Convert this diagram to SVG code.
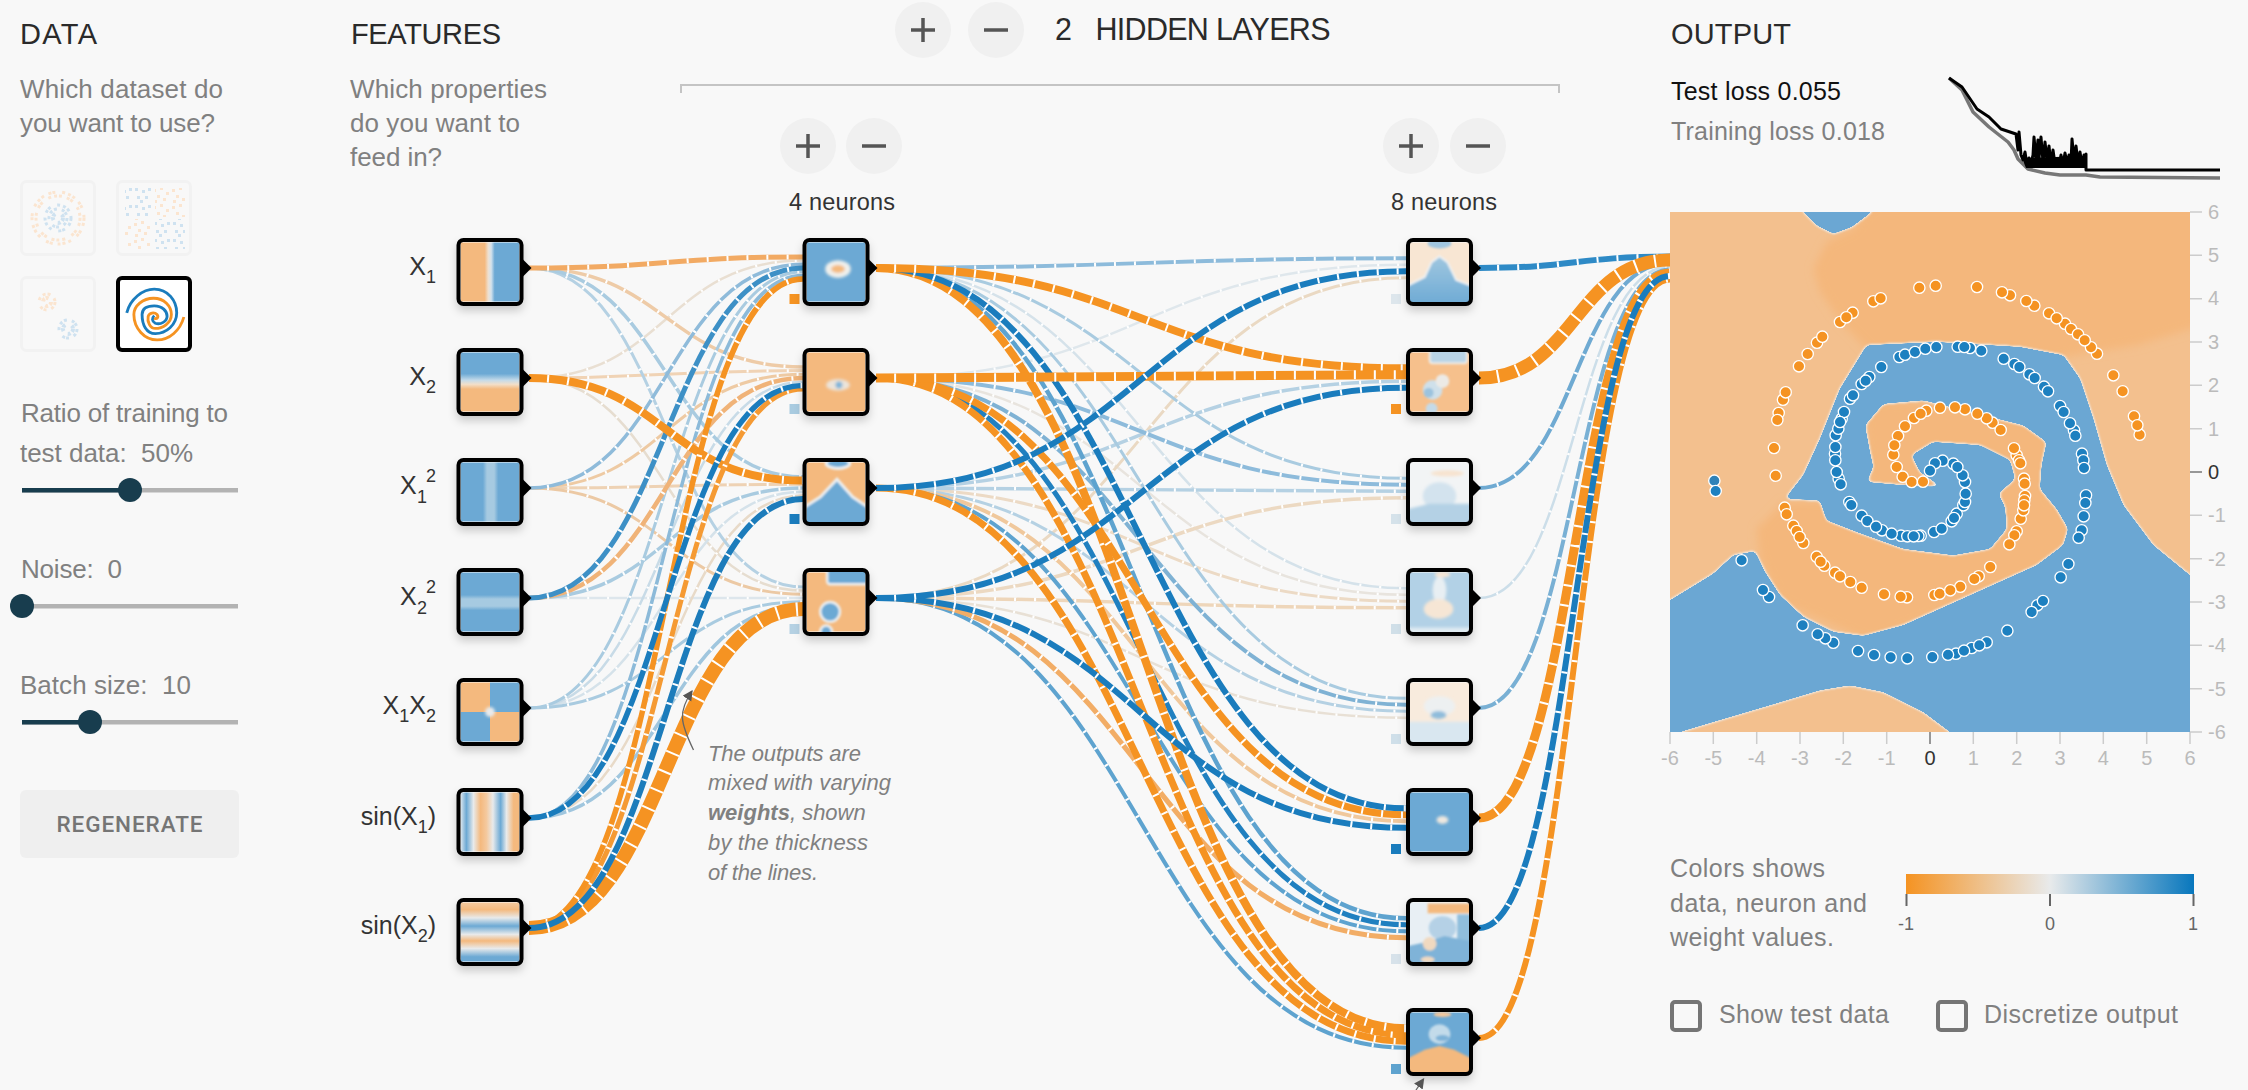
<svg xmlns="http://www.w3.org/2000/svg" width="2248" height="1090" viewBox="0 0 2248 1090">
<style>
text{font-family:"Liberation Sans",Arial,sans-serif}
.h{font-size:29px;fill:#2a2a2a}
.g{font-size:26px;fill:#808080}
.l{font-size:25px;fill:#333;text-anchor:end}
.n{font-size:23.5px;fill:#333}
.a{font-size:20px;fill:#bbb}
.ac{text-anchor:middle}
.an{font-size:22px;fill:#808080;font-style:italic}
.btn{fill:#f0f0f0}
.ic{stroke:#555;stroke-width:3.5;fill:none}
.tick{stroke:#ccc;stroke-width:1.5}
#links{fill:none}
#links .g2{stroke:#fff;stroke-dasharray:0 18 2 0}
.o{fill:#f59322;stroke:#fff;stroke-width:4}
.b{fill:#1d80c0;stroke:#fff;stroke-width:4}
.thumb{fill:#f8f8f8;stroke:#f2f2f2;stroke-width:3}
.dot{fill:none;stroke-dasharray:3 2 3 5 3 1 3 7 3 3}
</style>
<defs>
<filter id="sh" x="-30%" y="-30%" width="160%" height="170%"><feDropShadow dx="0" dy="5" stdDeviation="5" flood-color="#000" flood-opacity=".22"/></filter>
<filter id="bl" x="-20%" y="-20%" width="140%" height="140%"><feGaussianBlur stdDeviation="1.8"/></filter>
<filter id="bs" x="-20%" y="-20%" width="140%" height="140%"><feGaussianBlur stdDeviation="1.2"/></filter>
<filter id="bw" x="-10%" y="-10%" width="120%" height="120%"><feGaussianBlur stdDeviation="12"/></filter>
<filter id="smooth" x="-5%" y="-5%" width="110%" height="110%" color-interpolation-filters="sRGB">
<feGaussianBlur in="SourceAlpha" stdDeviation="8" result="b"/>
<feComponentTransfer in="b" result="m"><feFuncA type="linear" slope="25" intercept="-12"/></feComponentTransfer>
<feComponentTransfer in="b" result="h"><feFuncA type="linear" slope="25" intercept="-9"/></feComponentTransfer>
<feFlood flood-color="#6ba7d3"/><feComposite in2="m" operator="in" result="fb"/>
<feFlood flood-color="#eef1f3"/><feComposite in2="h" operator="in"/><feGaussianBlur stdDeviation="3" result="fh"/>
<feGaussianBlur in="fb" stdDeviation="2" result="fb2"/>
<feMerge><feMergeNode in="fh"/><feMergeNode in="fb2"/></feMerge>
</filter>
<rect id="card" x="1" y="1" width="65" height="66" rx="5" fill="#f8f8f8" filter="url(#sh)"/>
<g id="frame"><rect x="2" y="2" width="63" height="64" rx="5" fill="none" stroke="#000" stroke-width="4"/><polygon points="66,21 75,30 66,39" fill="#000"/></g>
<linearGradient id="g1"><stop offset="0" stop-color="#f4b97e"/><stop offset=".41" stop-color="#f4b97e"/><stop offset=".47" stop-color="#eee0d0"/><stop offset=".52" stop-color="#d5e3ed"/><stop offset=".58" stop-color="#6ca9d4"/><stop offset="1" stop-color="#6ca9d4"/></linearGradient>
<linearGradient id="g2" x1="0" y1="0" x2="0" y2="1"><stop offset="0" stop-color="#6ca9d4"/><stop offset=".36" stop-color="#6ca9d4"/><stop offset=".47" stop-color="#c5dbe9"/><stop offset=".54" stop-color="#f2dfc9"/><stop offset=".62" stop-color="#f4b97e"/><stop offset="1" stop-color="#f4b97e"/></linearGradient>
<linearGradient id="g3"><stop offset="0" stop-color="#6ca9d4"/><stop offset=".38" stop-color="#6ca9d4"/><stop offset=".45" stop-color="#a6cae1"/><stop offset=".57" stop-color="#a6cae1"/><stop offset=".64" stop-color="#6ca9d4"/><stop offset="1" stop-color="#6ca9d4"/></linearGradient>
<linearGradient id="g4" x1="0" y1="0" x2="0" y2="1"><stop offset="0" stop-color="#6ca9d4"/><stop offset=".38" stop-color="#6ca9d4"/><stop offset=".45" stop-color="#a6cae1"/><stop offset=".57" stop-color="#a6cae1"/><stop offset=".64" stop-color="#6ca9d4"/><stop offset="1" stop-color="#6ca9d4"/></linearGradient>
<linearGradient id="g5"><stop offset="0" stop-color="#e0e8ee"/><stop offset=".1" stop-color="#6ca9d4"/><stop offset=".22" stop-color="#e8eaeb"/><stop offset=".34" stop-color="#f4b97e"/><stop offset=".44" stop-color="#f4c99e"/><stop offset=".55" stop-color="#e8eaeb"/><stop offset=".68" stop-color="#6ca9d4"/><stop offset=".78" stop-color="#e8eaeb"/><stop offset=".9" stop-color="#f4b97e"/><stop offset="1" stop-color="#f4b97e"/></linearGradient>
<linearGradient id="g6" x1="0" y1="0" x2="0" y2="1"><stop offset="0" stop-color="#f4c99e"/><stop offset=".12" stop-color="#f4b97e"/><stop offset=".26" stop-color="#e8eaeb"/><stop offset=".4" stop-color="#6ca9d4"/><stop offset=".54" stop-color="#e8eaeb"/><stop offset=".65" stop-color="#f4b97e"/><stop offset=".78" stop-color="#e8eaeb"/><stop offset=".92" stop-color="#6ca9d4"/><stop offset="1" stop-color="#6ca9d4"/></linearGradient>
<linearGradient id="gm" x1="0" y1="0" x2="0" y2="1"><stop offset="0" stop-color="#a0c7e0"/><stop offset="1" stop-color="#6ca9d4"/></linearGradient>
<linearGradient id="leg"><stop offset="0" stop-color="#f59322"/><stop offset=".5" stop-color="#e8eaeb"/><stop offset="1" stop-color="#0877bd"/></linearGradient>
<pattern id="po" width="19" height="17" patternUnits="userSpaceOnUse"><g fill="#fbe5d0"><rect x="1" y="2" width="3" height="3"/><rect x="8" y="0" width="3" height="3"/><rect x="14" y="5" width="3" height="3"/><rect x="5" y="8" width="3" height="3"/><rect x="11" y="11" width="3" height="3"/><rect x="2" y="13" width="3" height="3"/></g></pattern>
<pattern id="pb" width="19" height="17" patternUnits="userSpaceOnUse"><g fill="#cfe2f0"><rect x="2" y="1" width="3" height="3"/><rect x="9" y="3" width="3" height="3"/><rect x="15" y="1" width="3" height="3"/><rect x="4" y="9" width="3" height="3"/><rect x="12" y="9" width="3" height="3"/><rect x="7" y="13" width="3" height="3"/></g></pattern>
<marker id="ar" markerWidth="8" markerHeight="10" refX="7" refY="4" orient="auto"><path d="M0 0L8 4L0 8z" fill="#555"/></marker>
</defs>
<rect width="2248" height="1090" fill="#f8f8f8"/>

<g id="data-panel">
<text class="h" x="20" y="43.5" textLength="77">DATA</text>
<text class="g" x="20" y="98" textLength="203">Which dataset do</text>
<text class="g" x="20" y="132" textLength="195">you want to use?</text>
<g id="dataset-circle"><rect class="thumb" x="21.5" y="181.5" width="73" height="73" rx="5"/><g class="dot" stroke="#fbe5d0"><circle cx="58" cy="218" r="26" stroke-width="3"/><circle cx="58" cy="218" r="22" stroke-width="3"/></g><g class="dot" stroke="#cfe2f0"><circle cx="58" cy="218" r="13" stroke-width="3"/><circle cx="58" cy="218" r="9" stroke-width="3"/><circle cx="58" cy="218" r="5" stroke-width="4"/></g></g>
<g id="dataset-xor"><rect class="thumb" x="117.5" y="181.5" width="73" height="73" rx="5"/><rect x="125" y="188" width="28" height="29" fill="url(#pb)"/><rect x="155" y="188" width="30" height="29" fill="url(#po)"/><rect x="125" y="219" width="28" height="30" fill="url(#po)"/><rect x="155" y="219" width="30" height="30" fill="url(#pb)"/></g>
<g id="dataset-gauss"><rect class="thumb" x="21.5" y="277.5" width="73" height="73" rx="5"/><g class="dot" stroke="#fbe5d0"><circle cx="47" cy="302" r="8" stroke-width="3"/><circle cx="47" cy="302" r="4" stroke-width="4"/></g><g class="dot" stroke="#cfe2f0"><circle cx="68" cy="329" r="9" stroke-width="3"/><circle cx="68" cy="329" r="5" stroke-width="4"/></g></g>
<g id="dataset-spiral"><rect x="118" y="278" width="72" height="72" rx="4" fill="#fff" stroke="#000" stroke-width="4"/><g transform="scale(.357 .3476)" fill="none" stroke-width="8"><path stroke="#1a7cbd" d="M355 900C365 860 400 832 432 832C470 832 495 865 495 900C495 935 465 960 435 960C410 960 398 935 398 905C398 885 415 880 432 880C455 880 468 895 468 910C468 925 450 935 435 930C425 925 425 915 432 908"/><path stroke="#f59322" d="M515 912C505 950 475 978 440 978C405 978 375 945 375 905C375 880 400 858 430 858C460 858 480 880 480 905C480 930 455 945 435 945C420 945 412 925 415 910C418 900 432 897 440 905C445 912 440 920 432 915"/></g></g>
<text class="g" x="21" y="422" textLength="207">Ratio of training to</text>
<text class="g" x="20" y="462" xml:space="preserve" textLength="173">test data:  50%</text>
<g id="slider-ratio"><rect x="22" y="488" width="216" height="4.5" fill="#b3b3b3"/><rect x="22" y="488" width="108" height="4.5" fill="#183d4e"/><circle cx="130" cy="490" r="12" fill="#183d4e"/></g>
<text class="g" x="21" y="578" xml:space="preserve" textLength="101">Noise:  0</text>
<g id="slider-noise"><rect x="22" y="604" width="216" height="4.5" fill="#b3b3b3"/><circle cx="22" cy="606" r="12" fill="#183d4e"/></g>
<text class="g" x="20" y="694" xml:space="preserve" textLength="171">Batch size:  10</text>
<g id="slider-batch"><rect x="22" y="720" width="216" height="4.5" fill="#b3b3b3"/><rect x="22" y="720" width="68" height="4.5" fill="#183d4e"/><circle cx="90" cy="722" r="12" fill="#183d4e"/></g>
<g id="regenerate"><rect x="20" y="790" width="219" height="68" rx="6" fill="#efefef"/><text x="129.5" y="832" class="ac" style="font-size:22.5px;font-family:Roboto,sans-serif;font-weight:500;fill:#757575" textLength="146">REGENERATE</text></g>
</g>

<g id="top-controls">
<text class="h" x="351" y="43.5" textLength="150">FEATURES</text>
<text class="g" x="350" y="98" textLength="197">Which properties</text>
<text class="g" x="350" y="132" textLength="170">do you want to</text>
<text class="g" x="350" y="166" textLength="92">feed in?</text>
<g id="layer-add"><circle class="btn" cx="923" cy="30" r="28"/><path class="ic" d="M911 30H935M923 18V42"/></g>
<g id="layer-remove"><circle class="btn" cx="996" cy="30" r="28"/><path class="ic" d="M984 30H1008"/></g>
<text class="h" x="1055" y="40" style="font-size:30.5px">2</text>
<text class="h" x="1095.5" y="40" style="font-size:30.5px" textLength="235">HIDDEN LAYERS</text>
<path d="M681 93V85H1559V93" fill="none" stroke="#c4c4c4" stroke-width="2"/>
<g id="l1-add"><circle class="btn" cx="808" cy="146" r="28"/><path class="ic" d="M796 146H820M808 134V158"/></g>
<g id="l1-remove"><circle class="btn" cx="874" cy="146" r="28"/><path class="ic" d="M862 146H886"/></g>
<g id="l2-add"><circle class="btn" cx="1411" cy="146" r="28"/><path class="ic" d="M1399 146H1423M1411 134V158"/></g>
<g id="l2-remove"><circle class="btn" cx="1478" cy="146" r="28"/><path class="ic" d="M1466 146H1490"/></g>
<text class="n" x="789" y="209.5" textLength="106">4 neurons</text>
<text class="n" x="1391" y="209.5" textLength="106">8 neurons</text>
</g>

<g id="links">
<g id="links-input">
<g stroke="#e9dfd2" stroke-width="2.5"><path id="a2" d="M529 378C666 378 666 260.6 803 260.6"/><use href="#a2" class="g2"/></g>
<g stroke="#e6ddd0" stroke-width="2.5"><path id="c2" d="M529 378C666 378 666 590.6 803 590.6"/><use href="#c2" class="g2"/></g>
<g stroke="#dde6ec" stroke-width="2.5"><path id="c4" d="M529 598C666 598 666 598 803 598"/><use href="#c4" class="g2"/></g>
<g stroke="#d5e2ea" stroke-width="2.5"><path id="b5" d="M529 708C666 708 666 491.7 803 491.7"/><use href="#b5" class="g2"/></g>
<g stroke="#e8dac8" stroke-width="2.5"><path id="b6" d="M529 818C666 818 666 495.4 803 495.4"/><use href="#b6" class="g2"/></g>
<g stroke="#c8dbe7" stroke-width="2.5"><path id="e5" d="M529 708C666 708 666 381.7 803 381.7"/><use href="#e5" class="g2"/></g>
<g stroke="#eecba7" stroke-width="3.5"><path id="e1" d="M529 268C666 268 666 366.9 803 366.9"/><use href="#e1" class="g2"/></g>
<g stroke="#f0d3b5" stroke-width="3"><path id="e2" d="M529 378C666 378 666 370.6 803 370.6"/><use href="#e2" class="g2"/></g>
<g stroke="#eecaa3" stroke-width="3"><path id="e3" d="M529 488C666 488 666 374.3 803 374.3"/><use href="#e3" class="g2"/></g>
<g stroke="#eed2b4" stroke-width="3"><path id="b3" d="M529 488C666 488 666 484.3 803 484.3"/><use href="#b3" class="g2"/></g>
<g stroke="#ecc9a4" stroke-width="3"><path id="c3" d="M529 488C666 488 666 594.3 803 594.3"/><use href="#c3" class="g2"/></g>
<g stroke="#b5d1e3" stroke-width="3"><path id="c1" d="M529 268C666 268 666 586.9 803 586.9"/><use href="#c1" class="g2"/></g>
<g stroke="#a9cbe0" stroke-width="3.5"><path id="b1" d="M529 268C666 268 666 476.9 803 476.9"/><use href="#b1" class="g2"/></g>
<g stroke="#a9cbe0" stroke-width="3.5"><path id="b4" d="M529 598C666 598 666 488 803 488"/><use href="#b4" class="g2"/></g>
<g stroke="#a9cbe0" stroke-width="3"><path id="a5" d="M529 708C666 708 666 271.7 803 271.7"/><use href="#a5" class="g2"/></g>
<g stroke="#a9cbe0" stroke-width="3"><path id="c5" d="M529 708C666 708 666 601.7 803 601.7"/><use href="#c5" class="g2"/></g>
<g stroke="#a0c6de" stroke-width="3.5"><path id="c6" d="M529 818C666 818 666 605.4 803 605.4"/><use href="#c6" class="g2"/></g>
<g stroke="#8cbad9" stroke-width="3.5"><path id="a6" d="M529 818C666 818 666 275.4 803 275.4"/><use href="#a6" class="g2"/></g>
<g stroke="#8fbbda" stroke-width="3.5"><path id="a3" d="M529 488C666 488 666 264.3 803 264.3"/><use href="#a3" class="g2"/></g>
<g stroke="#f0b378" stroke-width="4.5"><path id="e4" d="M529 598C666 598 666 378 803 378"/><use href="#e4" class="g2"/></g>
<g stroke="#f2aa63" stroke-width="5"><path id="a1" d="M529 268C666 268 666 256.9 803 256.9"/><use href="#a1" class="g2"/></g>
<g stroke="#3d90c6" stroke-width="5"><path id="a4" d="M529 598C666 598 666 268 803 268"/><use href="#a4" class="g2"/></g>
<g stroke="#f59322" stroke-width="8"><path id="b2" d="M529 378C666 378 666 480.6 803 480.6"/><use href="#b2" class="g2"/></g>
<g stroke="#f59322" stroke-width="14"><path id="c7" d="M529 928C666 928 666 609.1 803 609.1"/><use href="#c7" class="g2"/></g>
<g stroke="#f59a33" stroke-width="5"><path id="e7" d="M529 928C666 928 666 389.1 803 389.1"/><use href="#e7" class="g2"/></g>
<g stroke="#f59322" stroke-width="5.5"><path id="a7" d="M529 928C666 928 666 279.1 803 279.1"/><use href="#a7" class="g2"/></g>
<g stroke="#1c7cbb" stroke-width="6"><path id="b7" d="M529 928C666 928 666 499.1 803 499.1"/><use href="#b7" class="g2"/></g>
<g stroke="#1a7cbd" stroke-width="5.5"><path id="e6" d="M529 818C666 818 666 385.4 803 385.4"/><use href="#e6" class="g2"/></g>
</g>
<g id="links-hidden">
<g stroke="#dfe7ec" stroke-width="2.5"><path id="h12" d="M876 378C1141 378 1141 264.75 1406 264.75"/><use href="#h12" class="g2"/></g>
<g stroke="#d5e2ea" stroke-width="2.5"><path id="h41" d="M876 268C1141 268 1141 588.25 1406 588.25"/><use href="#h41" class="g2"/></g>
<g stroke="#e8e4de" stroke-width="2.5"><path id="h42" d="M876 378C1141 378 1141 594.75 1406 594.75"/><use href="#h42" class="g2"/></g>
<g stroke="#e8e0d5" stroke-width="2.5"><path id="h54" d="M876 598C1141 598 1141 717.75 1406 717.75"/><use href="#h54" class="g2"/></g>
<g stroke="#ead9c3" stroke-width="3"><path id="h14" d="M876 598C1141 598 1141 277.75 1406 277.75"/><use href="#h14" class="g2"/></g>
<g stroke="#ecd9c2" stroke-width="3.5"><path id="h34" d="M876 598C1141 598 1141 497.75 1406 497.75"/><use href="#h34" class="g2"/></g>
<g stroke="#ecdac5" stroke-width="3"><path id="h43" d="M876 488C1141 488 1141 601.25 1406 601.25"/><use href="#h43" class="g2"/></g>
<g stroke="#eed6ba" stroke-width="3.5"><path id="h44" d="M876 598C1141 598 1141 607.75 1406 607.75"/><use href="#h44" class="g2"/></g>
<g stroke="#b5d1e3" stroke-width="3.5"><path id="h23" d="M876 488C1141 488 1141 381.25 1406 381.25"/><use href="#h23" class="g2"/></g>
<g stroke="#a9cbe0" stroke-width="3"><path id="h31" d="M876 268C1141 268 1141 478.25 1406 478.25"/><use href="#h31" class="g2"/></g>
<g stroke="#b5d1e3" stroke-width="3.5"><path id="h33" d="M876 488C1141 488 1141 491.25 1406 491.25"/><use href="#h33" class="g2"/></g>
<g stroke="#a9cbe0" stroke-width="3"><path id="h51" d="M876 268C1141 268 1141 698.25 1406 698.25"/><use href="#h51" class="g2"/></g>
<g stroke="#b5d1e3" stroke-width="3"><path id="h53" d="M876 488C1141 488 1141 711.25 1406 711.25"/><use href="#h53" class="g2"/></g>
<g stroke="#8dbbdb" stroke-width="4"><path id="h11" d="M876 268C1141 268 1141 258.25 1406 258.25"/><use href="#h11" class="g2"/></g>
<g stroke="#8dbbdb" stroke-width="4"><path id="h32" d="M876 378C1141 378 1141 484.75 1406 484.75"/><use href="#h32" class="g2"/></g>
<g stroke="#7fb2d4" stroke-width="4"><path id="h52" d="M876 378C1141 378 1141 704.75 1406 704.75"/><use href="#h52" class="g2"/></g>
<g stroke="#f0c89c" stroke-width="4"><path id="h63" d="M876 488C1141 488 1141 821.25 1406 821.25"/><use href="#h63" class="g2"/></g>
<g stroke="#5ea3cf" stroke-width="4"><path id="h84" d="M876 598C1141 598 1141 1047.75 1406 1047.75"/><use href="#h84" class="g2"/></g>
<g stroke="#5ea3cf" stroke-width="4.5"><path id="h71" d="M876 268C1141 268 1141 918.25 1406 918.25"/><use href="#h71" class="g2"/></g>
<g stroke="#5ea3cf" stroke-width="4"><path id="h73" d="M876 488C1141 488 1141 931.25 1406 931.25"/><use href="#h73" class="g2"/></g>
<g stroke="#f2ad66" stroke-width="5"><path id="h74" d="M876 598C1141 598 1141 937.75 1406 937.75"/><use href="#h74" class="g2"/></g>
<g stroke="#2080c0" stroke-width="5"><path id="h72" d="M876 378C1141 378 1141 924.75 1406 924.75"/><use href="#h72" class="g2"/></g>
<g stroke="#f59322" stroke-width="7"><path id="h83" d="M876 488C1141 488 1141 1041.25 1406 1041.25"/><use href="#h83" class="g2"/></g>
<g stroke="#f59322" stroke-width="7"><path id="h82" d="M876 378C1141 378 1141 1034.75 1406 1034.75"/><use href="#h82" class="g2"/></g>
<g stroke="#f59322" stroke-width="8"><path id="h81" d="M876 268C1141 268 1141 1028.25 1406 1028.25"/><use href="#h81" class="g2"/></g>
<g stroke="#f59322" stroke-width="7"><path id="h62" d="M876 378C1141 378 1141 814.75 1406 814.75"/><use href="#h62" class="g2"/></g>
<g stroke="#1a7cbd" stroke-width="6"><path id="h61" d="M876 268C1141 268 1141 808.25 1406 808.25"/><use href="#h61" class="g2"/></g>
<g stroke="#1a7cbd" stroke-width="6"><path id="h64" d="M876 598C1141 598 1141 827.75 1406 827.75"/><use href="#h64" class="g2"/></g>
<g stroke="#f59322" stroke-width="8"><path id="h21" d="M876 268C1141 268 1141 368.25 1406 368.25"/><use href="#h21" class="g2"/></g>
<g stroke="#f59322" stroke-width="9"><path id="h22" d="M876 378C1141 378 1141 374.75 1406 374.75"/><use href="#h22" class="g2"/></g>
<g stroke="#1a7cbd" stroke-width="6"><path id="h13" d="M876 488C1141 488 1141 271.25 1406 271.25"/><use href="#h13" class="g2"/></g>
<g stroke="#1a7cbd" stroke-width="6"><path id="h24" d="M876 598C1141 598 1141 387.75 1406 387.75"/><use href="#h24" class="g2"/></g>
</g>
<g id="links-output">
<g stroke="#ccdee9" stroke-width="2.5"><path id="o4" d="M1479 598C1575 598 1575 266.4 1670 266.4"/><use href="#o4" class="g2"/></g>
<g stroke="#6faad2" stroke-width="4"><path id="o3" d="M1479 488C1575 488 1575 263.1 1670 263.1"/><use href="#o3" class="g2"/></g>
<g stroke="#79b0d4" stroke-width="4"><path id="o5" d="M1479 708C1575 708 1575 269.6 1670 269.6"/><use href="#o5" class="g2"/></g>
<g stroke="#f59322" stroke-width="9"><path id="o6" d="M1479 818C1575 818 1575 272.9 1670 272.9"/><use href="#o6" class="g2"/></g>
<g stroke="#f59322" stroke-width="6"><path id="o8" d="M1479 1038C1575 1038 1575 279.4 1670 279.4"/><use href="#o8" class="g2"/></g>
<g stroke="#1a7cbd" stroke-width="6"><path id="o7" d="M1479 928C1575 928 1575 276.1 1670 276.1"/><use href="#o7" class="g2"/></g>
<g stroke="#2e8ac6" stroke-width="6"><path id="o1" d="M1479 268C1575 268 1575 256.6 1670 256.6"/><use href="#o1" class="g2"/></g>
<g stroke="#f59322" stroke-width="13"><path id="o2" d="M1479 378C1575 378 1575 259.9 1670 259.9"/><use href="#o2" class="g2"/></g>
</g>
</g>

<g id="input-nodes">
<text class="l" x="436" y="275"><tspan>X</tspan><tspan dy="8" style="font-size:18px">1</tspan></text>
<g id="node-x1" transform="translate(456.5 238)"><use href="#card"/><svg x="4" y="4" width="59" height="60" viewBox="0 0 60 60"><rect width="60" height="60" fill="url(#g1)"/></svg><use href="#frame"/></g>
<text class="l" x="436" y="385"><tspan>X</tspan><tspan dy="8" style="font-size:18px">2</tspan></text>
<g id="node-x2" transform="translate(456.5 348)"><use href="#card"/><svg x="4" y="4" width="59" height="60" viewBox="0 0 60 60"><rect width="60" height="60" fill="url(#g2)"/></svg><use href="#frame"/></g>
<text class="l" x="436" y="494" style="text-anchor:start"><tspan x="400">X</tspan><tspan x="417" dy="9" style="font-size:18px">1</tspan><tspan x="426" dy="-21" style="font-size:18px">2</tspan></text>
<g id="node-x1sq" transform="translate(456.5 458)"><use href="#card"/><svg x="4" y="4" width="59" height="60" viewBox="0 0 60 60"><rect width="60" height="60" fill="url(#g3)"/></svg><use href="#frame"/></g>
<text class="l" x="436" y="605" style="text-anchor:start"><tspan x="400">X</tspan><tspan x="417" dy="9" style="font-size:18px">2</tspan><tspan x="426" dy="-21" style="font-size:18px">2</tspan></text>
<g id="node-x2sq" transform="translate(456.5 568)"><use href="#card"/><svg x="4" y="4" width="59" height="60" viewBox="0 0 60 60"><rect width="60" height="60" fill="url(#g4)"/></svg><use href="#frame"/></g>
<text class="l" x="436" y="714"><tspan>X</tspan><tspan dy="8" style="font-size:18px">1</tspan><tspan dy="-8">X</tspan><tspan dy="8" style="font-size:18px">2</tspan></text>
<g id="node-x1x2" transform="translate(456.5 678)"><use href="#card"/><svg x="4" y="4" width="59" height="60" viewBox="0 0 60 60"><rect width="30" height="30" fill="#f4b97e"/><rect x="30" width="30" height="30" fill="#6ca9d4"/><rect y="30" width="30" height="30" fill="#6ca9d4"/><rect x="30" y="30" width="30" height="30" fill="#f4b97e"/><ellipse cx="30" cy="30" rx="5" ry="5" fill="#e8eaeb" filter="url(#bl)"/></svg><use href="#frame"/></g>
<text class="l" x="436" y="825"><tspan>sin(X</tspan><tspan dy="8" style="font-size:18px">1</tspan><tspan dy="-8">)</tspan></text>
<g id="node-sinx1" transform="translate(456.5 788)"><use href="#card"/><svg x="4" y="4" width="59" height="60" viewBox="0 0 60 60"><rect width="60" height="60" fill="url(#g5)"/></svg><use href="#frame"/></g>
<text class="l" x="436" y="934"><tspan>sin(X</tspan><tspan dy="8" style="font-size:18px">2</tspan><tspan dy="-8">)</tspan></text>
<g id="node-sinx2" transform="translate(456.5 898)"><use href="#card"/><svg x="4" y="4" width="59" height="60" viewBox="0 0 60 60"><rect width="60" height="60" fill="url(#g6)"/></svg><use href="#frame"/></g>
</g>

<g id="hidden-layer-1">
<g id="n1-1" transform="translate(802.5 238)"><rect x="-13" y="56" width="10" height="10" fill="#f59322"/><use href="#card"/><svg x="4" y="4" width="59" height="60" viewBox="0 0 60 60"><rect width="60" height="60" fill="#6ca9d4"/><g filter="url(#bl)"><ellipse cx="32" cy="27" rx="13" ry="9" fill="#f0f0ec"/><ellipse cx="32" cy="27" rx="7" ry="4" fill="#f4b97e"/></g></svg><use href="#frame"/></g>
<g id="n1-2" transform="translate(802.5 348)"><rect x="-13" y="56" width="10" height="10" fill="#a9cbe0"/><use href="#card"/><svg x="4" y="4" width="59" height="60" viewBox="0 0 60 60"><rect width="60" height="60" fill="#f4b97e"/><g filter="url(#bl)"><ellipse cx="32" cy="33" rx="12" ry="6" fill="#ece4da"/><circle cx="33" cy="33" r="3.5" fill="#7fb3d8"/></g></svg><use href="#frame"/></g>
<g id="n1-3" transform="translate(802.5 458)"><rect x="-13" y="56" width="10" height="10" fill="#1a7cbd"/><use href="#card"/><svg x="4" y="4" width="59" height="60" viewBox="0 0 60 60"><rect width="60" height="60" fill="#f4b97e"/><g filter="url(#bs)"><path d="M-5 47L14 35L31 17L47 35L65 47V65H-5z" fill="#6ca9d4" stroke="#edf0f2" stroke-width="3"/><ellipse cx="32" cy="1" rx="12" ry="5" fill="#6ca9d4" stroke="#edf0f2" stroke-width="3"/></g></svg><use href="#frame"/></g>
<g id="n1-4" transform="translate(802.5 568)"><rect x="-13" y="56" width="10" height="10" fill="#b5d1e3"/><use href="#card"/><svg x="4" y="4" width="59" height="60" viewBox="0 0 60 60"><rect width="60" height="60" fill="#f4b97e"/><g filter="url(#bs)" stroke="#edf0f2" stroke-width="2.5" fill="#6ca9d4"><rect x="21" y="-8" width="45" height="20" rx="3"/><circle cx="24" cy="40" r="10"/><circle cx="20" cy="60" r="6"/></g></svg><use href="#frame"/></g>
</g>

<g id="hidden-layer-2">
<g id="n2-1" transform="translate(1406 238)"><rect x="-15" y="56" width="10" height="10" fill="#dde6ec"/><use href="#card"/><svg x="4" y="4" width="59" height="60" viewBox="0 0 60 60"><rect width="60" height="60" fill="#f8e6d3"/><g filter="url(#bs)"><path d="M-5 45L15 35L22 20L30 14L38 20L47 38L65 45V65H-5z" fill="url(#gm)" stroke="#eef1f3" stroke-width="2"/><ellipse cx="30" cy="1" rx="12" ry="5" fill="#a0c6e0"/></g></svg><use href="#frame"/></g>
<g id="n2-2" transform="translate(1406 348)"><rect x="-15" y="56" width="10" height="10" fill="#f59322"/><use href="#card"/><svg x="4" y="4" width="59" height="60" viewBox="0 0 60 60"><rect width="60" height="60" fill="#f6c08c"/><g filter="url(#bs)"><rect x="20" y="-5" width="38" height="16" rx="3" fill="#b9d4e6" stroke="#f0ece6" stroke-width="2"/><circle cx="23" cy="38" r="10" fill="#cfe0ea"/><circle cx="19" cy="41" r="5" fill="#9cc3de"/><circle cx="33" cy="29" r="7" fill="#eceae6"/><circle cx="22" cy="57" r="6" fill="#c5dae8"/></g></svg><use href="#frame"/></g>
<g id="n2-3" transform="translate(1406 458)"><rect x="-15" y="56" width="10" height="10" fill="#d5e2ea"/><use href="#card"/><svg x="4" y="4" width="59" height="60" viewBox="0 0 60 60"><rect width="60" height="60" fill="#f2f4f5"/><g filter="url(#bl)"><ellipse cx="38" cy="11" rx="17" ry="3" fill="#f7e3cf"/><ellipse cx="30" cy="34" rx="17" ry="14" fill="#d3e3ee"/><path d="M-5 48L20 42H65V65H-5z" fill="#b4d1e5"/></g></svg><use href="#frame"/></g>
<g id="n2-4" transform="translate(1406 568)"><rect x="-15" y="56" width="10" height="10" fill="#d0dfe8"/><use href="#card"/><svg x="4" y="4" width="59" height="60" viewBox="0 0 60 60"><rect width="60" height="60" fill="#b2d1e6"/><g filter="url(#bl)"><ellipse cx="30" cy="18" rx="7" ry="14" fill="#e8eff3"/><ellipse cx="33" cy="2" rx="8" ry="3" fill="#f6e6d5"/><ellipse cx="29" cy="37" rx="15" ry="10" fill="#f6e6d5"/><rect x="-5" y="56" width="70" height="8" fill="#e0ebf2"/></g></svg><use href="#frame"/></g>
<g id="n2-5" transform="translate(1406 678)"><rect x="-15" y="56" width="10" height="10" fill="#cfdfe9"/><use href="#card"/><svg x="4" y="4" width="59" height="60" viewBox="0 0 60 60"><rect width="60" height="60" fill="#f8ebdd"/><g filter="url(#bl)"><rect x="-5" y="40" width="70" height="25" fill="#d9e7f0"/><ellipse cx="30" cy="24" rx="16" ry="10" fill="#edf0f1"/><ellipse cx="29" cy="33" rx="8" ry="4" fill="#8fbcdb"/></g></svg><use href="#frame"/></g>
<g id="n2-6" transform="translate(1406 788)"><rect x="-15" y="56" width="10" height="10" fill="#1a7cbd"/><use href="#card"/><svg x="4" y="4" width="59" height="60" viewBox="0 0 60 60"><rect width="60" height="60" fill="#6ca9d4"/><ellipse cx="33" cy="28" rx="6" ry="4" fill="#eee8df" filter="url(#bl)"/></svg><use href="#frame"/></g>
<g id="n2-7" transform="translate(1406 898)"><rect x="-15" y="56" width="10" height="10" fill="#d7e2ea"/><use href="#card"/><svg x="4" y="4" width="59" height="60" viewBox="0 0 60 60"><rect width="60" height="60" fill="#e8eff4"/><g filter="url(#bs)"><rect x="18" y="1" width="46" height="10" fill="#f4b97e"/><ellipse cx="33" cy="26" rx="14" ry="12" fill="#b5d1e6"/><rect x="48" y="12" width="16" height="30" fill="#90bedc"/><path d="M-5 45L18 40L35 34L65 40V65H-5z" fill="#7fb3d8"/><circle cx="20" cy="42" r="7" fill="#f0d9c0"/><ellipse cx="18" cy="58" rx="7" ry="3" fill="#f0d9c0"/></g></svg><use href="#frame"/></g>
<g id="n2-8" transform="translate(1406 1008)"><rect x="-15" y="56" width="10" height="10" fill="#5ea3cf"/><use href="#card"/><svg x="4" y="4" width="59" height="60" viewBox="0 0 60 60"><rect width="60" height="60" fill="#6ca9d4"/><g filter="url(#bs)"><ellipse cx="33" cy="2" rx="9" ry="2.5" fill="#f2c79d"/><path d="M-5 48L15 38L30 34L45 38L65 48V65H-5z" fill="#f4b97e"/><ellipse cx="30" cy="22" rx="11" ry="10" fill="#c3dbea"/><ellipse cx="33" cy="26" rx="7" ry="3" fill="#7fb3d8"/></g></svg><use href="#frame"/></g>
</g>

<g id="annotations">
<path d="M693.5 750C680 722 678 712 692 691" fill="none" stroke="#666" stroke-width="1.3" marker-end="url(#ar)"/>
<text class="an" x="708" y="760.5" textLength="153">The outputs are</text>
<text class="an" x="708" y="790" textLength="183">mixed with varying</text>
<text class="an" x="708" y="820"><tspan style="font-weight:700">weights</tspan>, shown</text>
<text class="an" x="708" y="850" textLength="160">by the thickness</text>
<text class="an" x="708" y="880" textLength="110">of the lines.</text>
<path d="M1416 1090L1423.5 1079" fill="none" stroke="#666" stroke-width="1.3" marker-end="url(#ar)"/>
</g>

<g id="output-panel">
<text class="h" x="1671" y="43.5" textLength="120">OUTPUT</text>
<text x="1671" y="100" style="font-size:25px;fill:#111" textLength="170">Test loss 0.055</text>
<text x="1671" y="140" style="font-size:25px;fill:#808080" textLength="214">Training loss 0.018</text>
<g id="loss-chart" fill="none" stroke-linejoin="round">
<polyline stroke="#777" stroke-width="3.5" points="1949,78 1962,90 1973,112 1989,127 2008,142 2014,150 2018,159 2028,169 2045,173 2060,175 2086,175 2100,177 2220,178"/>
<polyline stroke="#000" stroke-width="3" points="1949,78 1962,87 1977,109 1989,117 2001,129 2016,134 2018,150 2019,132 2021,155 2023,160 2025,152 2027,165 2029,158 2031,163 2033,155 2034,137 2036,160 2038,140 2039,158 2041,137 2043,162 2045,142 2047,160 2049,146 2051,165 2053,150 2055,164 2057,160 2059,166 2061,155 2063,165 2065,153 2067,163 2069,155 2071,163 2072,139 2074,160 2076,146 2078,163 2080,152 2082,165 2084,155 2086,168 2086,154 2086,170 2220,170"/>
<path d="M2022 158L2086 156V168L2026 168z" fill="#000"/>
</g>
<g id="heatmap" transform="translate(1670 212) scale(.33333)">
<svg width="1560" height="1560" viewBox="0 0 1560 1560">
<rect width="1560" height="1560" fill="#f3c08e"/>
<g fill="#f4b77c" filter="url(#bw)"><path d="M430 170L470 90L550 50L605 -20H1600V340L1400 400L1150 440L600 420L520 340L450 240z"/><path d="M260 950L340 870L1200 860V1040L600 1290L330 1170L270 1040z"/><path d="M580 560L1140 600V900L600 830z"/></g>
<g filter="url(#smooth)" fill="#000">
<path d="M395 -40L400 0L440 40L490 65L545 45L605 0L610 -40z"/>
<path d="M-40 1188L0 1165L130 1085L190 1030L255 1018L285 1080L330 1150L400 1215L490 1260L580 1272L700 1240L900 1150L1100 1060L1180 1000L1195 950L1160 890L1110 830L1115 760L1130 690L1060 640L900 600L760 565L640 575L585 640L600 720L610 765L590 810L700 820L815 825L750 780L725 730L790 690L930 700L1020 745L1035 800L985 845L1005 885L1010 950L960 1010L850 1030L700 1010L560 960L470 925L450 865L345 860L400 790L450 680L510 530L590 400L800 390L1050 405L1180 430L1230 500L1270 620L1310 760L1360 880L1450 1000L1560 1090L1600 1120V1610H880L840 1560L760 1500L640 1440L540 1420L450 1435L300 1480L130 1530L30 1560L-10 1610H-40z"/>
</g>
</svg>
<g id="points-orange"><circle class="o" cx="797" cy="221" r="17"/><circle class="o" cx="748" cy="227" r="17"/><circle class="o" cx="921" cy="225" r="17"/><circle class="o" cx="1020" cy="250" r="17"/><circle class="o" cx="996" cy="241" r="17"/><circle class="o" cx="1093" cy="281" r="17"/><circle class="o" cx="1069" cy="267" r="17"/><circle class="o" cx="1137" cy="304" r="17"/><circle class="o" cx="1185" cy="335" r="17"/><circle class="o" cx="1160" cy="319" r="17"/><circle class="o" cx="1203" cy="351" r="17"/><circle class="o" cx="1224" cy="367" r="17"/><circle class="o" cx="1281" cy="425" r="17"/><circle class="o" cx="1263" cy="406" r="17"/><circle class="o" cx="1244" cy="385" r="17"/><circle class="o" cx="1330" cy="490" r="17"/><circle class="o" cx="1358" cy="538" r="17"/><circle class="o" cx="1392" cy="613" r="17"/><circle class="o" cx="1409" cy="668" r="17"/><circle class="o" cx="1402" cy="640" r="17"/><circle class="o" cx="610" cy="268" r="17"/><circle class="o" cx="632" cy="259" r="17"/><circle class="o" cx="548" cy="302" r="17"/><circle class="o" cx="510" cy="330" r="17"/><circle class="o" cx="529" cy="316" r="17"/><circle class="o" cx="441" cy="392" r="17"/><circle class="o" cx="457" cy="374" r="17"/><circle class="o" cx="413" cy="426" r="17"/><circle class="o" cx="387" cy="463" r="17"/><circle class="o" cx="339" cy="563" r="17"/><circle class="o" cx="347" cy="541" r="17"/><circle class="o" cx="326" cy="603" r="17"/><circle class="o" cx="322" cy="624" r="17"/><circle class="o" cx="312" cy="708" r="17"/><circle class="o" cx="317" cy="791" r="17"/><circle class="o" cx="344" cy="887" r="17"/><circle class="o" cx="350" cy="907" r="17"/><circle class="o" cx="370" cy="941" r="17"/><circle class="o" cx="400" cy="993" r="17"/><circle class="o" cx="380" cy="957" r="17"/><circle class="o" cx="389" cy="975" r="17"/><circle class="o" cx="440" cy="1034" r="17"/><circle class="o" cx="463" cy="1061" r="17"/><circle class="o" cx="452" cy="1049" r="17"/><circle class="o" cx="495" cy="1082" r="17"/><circle class="o" cx="510" cy="1093" r="17"/><circle class="o" cx="541" cy="1110" r="17"/><circle class="o" cx="575" cy="1127" r="17"/><circle class="o" cx="642" cy="1147" r="17"/><circle class="o" cx="711" cy="1156" r="17"/><circle class="o" cx="692" cy="1154" r="17"/><circle class="o" cx="793" cy="1149" r="17"/><circle class="o" cx="809" cy="1145" r="17"/><circle class="o" cx="871" cy="1124" r="17"/><circle class="o" cx="841" cy="1135" r="17"/><circle class="o" cx="926" cy="1093" r="17"/><circle class="o" cx="913" cy="1101" r="17"/><circle class="o" cx="961" cy="1065" r="17"/><circle class="o" cx="1040" cy="958" r="17"/><circle class="o" cx="1033" cy="970" r="17"/><circle class="o" cx="1018" cy="997" r="17"/><circle class="o" cx="1052" cy="920" r="17"/><circle class="o" cx="1060" cy="895" r="17"/><circle class="o" cx="1065" cy="852" r="17"/><circle class="o" cx="1063" cy="865" r="17"/><circle class="o" cx="1062" cy="880" r="17"/><circle class="o" cx="1062" cy="800" r="17"/><circle class="o" cx="1064" cy="815" r="17"/><circle class="o" cx="1040" cy="730" r="17"/><circle class="o" cx="1047" cy="745" r="17"/><circle class="o" cx="1051" cy="754" r="17"/><circle class="o" cx="1032" cy="709" r="17"/><circle class="o" cx="968" cy="632" r="17"/><circle class="o" cx="992" cy="654" r="17"/><circle class="o" cx="950" cy="619" r="17"/><circle class="o" cx="922" cy="605" r="17"/><circle class="o" cx="885" cy="592" r="17"/><circle class="o" cx="855" cy="586" r="17"/><circle class="o" cx="810" cy="587" r="17"/><circle class="o" cx="769" cy="596" r="17"/><circle class="o" cx="732" cy="618" r="17"/><circle class="o" cx="752" cy="605" r="17"/><circle class="o" cx="705" cy="643" r="17"/><circle class="o" cx="684" cy="672" r="17"/><circle class="o" cx="670" cy="728" r="17"/><circle class="o" cx="673" cy="700" r="17"/><circle class="o" cx="680" cy="765" r="17"/><circle class="o" cx="698" cy="794" r="17"/><circle class="o" cx="725" cy="810" r="17"/><circle class="o" cx="759" cy="809" r="17"/></g>
<g id="points-blue"><circle class="b" cx="688" cy="435" r="17"/><circle class="b" cx="705" cy="428" r="17"/><circle class="b" cx="735" cy="420" r="17"/><circle class="b" cx="766" cy="410" r="17"/><circle class="b" cx="799" cy="405" r="17"/><circle class="b" cx="634" cy="465" r="17"/><circle class="b" cx="598" cy="495" r="17"/><circle class="b" cx="575" cy="516" r="17"/><circle class="b" cx="587" cy="506" r="17"/><circle class="b" cx="540" cy="560" r="17"/><circle class="b" cx="549" cy="550" r="17"/><circle class="b" cx="515" cy="620" r="17"/><circle class="b" cx="522" cy="600" r="17"/><circle class="b" cx="497" cy="670" r="17"/><circle class="b" cx="505" cy="650" r="17"/><circle class="b" cx="510" cy="630" r="17"/><circle class="b" cx="495" cy="725" r="17"/><circle class="b" cx="496" cy="705" r="17"/><circle class="b" cx="496" cy="745" r="17"/><circle class="b" cx="506" cy="800" r="17"/><circle class="b" cx="500" cy="780" r="17"/><circle class="b" cx="512" cy="817" r="17"/><circle class="b" cx="900" cy="408" r="17"/><circle class="b" cx="863" cy="404" r="17"/><circle class="b" cx="883" cy="405" r="17"/><circle class="b" cx="934" cy="416" r="17"/><circle class="b" cx="1001" cy="440" r="17"/><circle class="b" cx="1033" cy="456" r="17"/><circle class="b" cx="1048" cy="465" r="17"/><circle class="b" cx="1078" cy="487" r="17"/><circle class="b" cx="1094" cy="498" r="17"/><circle class="b" cx="1122" cy="524" r="17"/><circle class="b" cx="1134" cy="538" r="17"/><circle class="b" cx="1170" cy="582" r="17"/><circle class="b" cx="1181" cy="600" r="17"/><circle class="b" cx="1212" cy="655" r="17"/><circle class="b" cx="1200" cy="634" r="17"/><circle class="b" cx="1216" cy="671" r="17"/><circle class="b" cx="1236" cy="725" r="17"/><circle class="b" cx="1240" cy="745" r="17"/><circle class="b" cx="1242" cy="768" r="17"/><circle class="b" cx="1248" cy="850" r="17"/><circle class="b" cx="1246" cy="873" r="17"/><circle class="b" cx="1241" cy="913" r="17"/><circle class="b" cx="1235" cy="955" r="17"/><circle class="b" cx="1226" cy="977" r="17"/><circle class="b" cx="1195" cy="1056" r="17"/><circle class="b" cx="1172" cy="1096" r="17"/><circle class="b" cx="1102" cy="1180" r="17"/><circle class="b" cx="1119" cy="1167" r="17"/><circle class="b" cx="1085" cy="1200" r="17"/><circle class="b" cx="1012" cy="1256" r="17"/><circle class="b" cx="950" cy="1291" r="17"/><circle class="b" cx="905" cy="1308" r="17"/><circle class="b" cx="928" cy="1300" r="17"/><circle class="b" cx="858" cy="1325" r="17"/><circle class="b" cx="882" cy="1316" r="17"/><circle class="b" cx="834" cy="1328" r="17"/><circle class="b" cx="787" cy="1335" r="17"/><circle class="b" cx="712" cy="1339" r="17"/><circle class="b" cx="662" cy="1336" r="17"/><circle class="b" cx="612" cy="1329" r="17"/><circle class="b" cx="564" cy="1317" r="17"/><circle class="b" cx="490" cy="1292" r="17"/><circle class="b" cx="466" cy="1279" r="17"/><circle class="b" cx="443" cy="1267" r="17"/><circle class="b" cx="398" cy="1240" r="17"/><circle class="b" cx="297" cy="1155" r="17"/><circle class="b" cx="279" cy="1134" r="17"/><circle class="b" cx="215" cy="1045" r="17"/><circle class="b" cx="133" cy="806" r="17" style="fill:#2f82b8"/><circle class="b" cx="137" cy="837" r="17"/><circle class="b" cx="538" cy="870" r="17"/><circle class="b" cx="544" cy="879" r="17"/><circle class="b" cx="575" cy="911" r="17"/><circle class="b" cx="592" cy="927" r="17"/><circle class="b" cx="636" cy="955" r="17"/><circle class="b" cx="618" cy="944" r="17"/><circle class="b" cx="752" cy="971" r="17"/><circle class="b" cx="745" cy="972" r="17"/><circle class="b" cx="693" cy="971" r="17"/><circle class="b" cx="712" cy="973" r="17"/><circle class="b" cx="665" cy="965" r="17"/><circle class="b" cx="731" cy="973" r="17"/><circle class="b" cx="792" cy="960" r="17"/><circle class="b" cx="815" cy="950" r="17"/><circle class="b" cx="860" cy="905" r="17"/><circle class="b" cx="845" cy="928" r="17"/><circle class="b" cx="852" cy="918" r="17"/><circle class="b" cx="880" cy="880" r="17"/><circle class="b" cx="885" cy="870" r="17"/><circle class="b" cx="887" cy="845" r="17"/><circle class="b" cx="885" cy="810" r="17"/><circle class="b" cx="878" cy="790" r="17"/><circle class="b" cx="850" cy="755" r="17"/><circle class="b" cx="862" cy="765" r="17"/><circle class="b" cx="818" cy="746" r="17"/><circle class="b" cx="795" cy="754" r="17"/><circle class="b" cx="780" cy="776" r="17"/></g>
</g>
<g id="axis-y">
<path class="tick" d="M2190 212H2202M2190 255.3H2202M2190 298.7H2202M2190 342H2202M2190 385.3H2202M2190 428.7H2202M2190 515.3H2202M2190 558.7H2202M2190 602H2202M2190 645.3H2202M2190 688.7H2202M2190 732H2202"/>
<path d="M2190 472H2202" stroke="#777" stroke-width="1.5"/>
<text class="a" x="2208" y="219">6</text><text class="a" x="2208" y="262">5</text><text class="a" x="2208" y="305">4</text><text class="a" x="2208" y="349">3</text><text class="a" x="2208" y="392">2</text><text class="a" x="2208" y="436">1</text><text class="a" x="2208" y="479" style="fill:#333">0</text><text class="a" x="2208" y="522">-1</text><text class="a" x="2208" y="566">-2</text><text class="a" x="2208" y="609">-3</text><text class="a" x="2208" y="652">-4</text><text class="a" x="2208" y="696">-5</text><text class="a" x="2208" y="739">-6</text>
</g>
<g id="axis-x">
<path class="tick" d="M1670 732V744M1713.3 732V744M1756.7 732V744M1800 732V744M1843.3 732V744M1886.7 732V744M1973.3 732V744M2016.7 732V744M2060 732V744M2103.3 732V744M2146.7 732V744M2190 732V744"/>
<path d="M1930 732V744" stroke="#777" stroke-width="1.5"/>
<g><text class="a ac" x="1670" y="764.5">-6</text><text class="a ac" x="1713.3" y="764.5">-5</text><text class="a ac" x="1756.7" y="764.5">-4</text><text class="a ac" x="1800" y="764.5">-3</text><text class="a ac" x="1843.3" y="764.5">-2</text><text class="a ac" x="1886.7" y="764.5">-1</text><text class="a ac" x="1930" y="764.5" style="fill:#333">0</text><text class="a ac" x="1973.3" y="764.5">1</text><text class="a ac" x="2016.7" y="764.5">2</text><text class="a ac" x="2060" y="764.5">3</text><text class="a ac" x="2103.3" y="764.5">4</text><text class="a ac" x="2146.7" y="764.5">5</text><text class="a ac" x="2190" y="764.5">6</text></g>
</g>
<g id="legend">
<text class="g" x="1670" y="877" style="font-size:25px" textLength="155">Colors shows</text>
<text class="g" x="1670" y="912" style="font-size:25px" textLength="197">data, neuron and</text>
<text class="g" x="1670" y="946" style="font-size:25px" textLength="164">weight values.</text>
<rect x="1906" y="874" width="288" height="20" fill="url(#leg)"/>
<path d="M1906.5 894V906M2050 894V906M2193.5 894V906" stroke="#666" stroke-width="2"/>
<text class="ac" x="1906" y="930" style="font-size:18px;fill:#666">-1</text><text class="ac" x="2050" y="930" style="font-size:18px;fill:#666">0</text><text class="ac" x="2193" y="930" style="font-size:18px;fill:#666">1</text>
</g>
<g id="checkbox-test"><rect x="1672" y="1002" width="28" height="28" rx="3" fill="none" stroke="#757575" stroke-width="4"/><text class="g" x="1719" y="1023" style="font-size:25px" textLength="170">Show test data</text></g>
<g id="checkbox-discretize"><rect x="1938" y="1002" width="28" height="28" rx="3" fill="none" stroke="#757575" stroke-width="4"/><text class="g" x="1984" y="1023" style="font-size:25px" textLength="194">Discretize output</text></g>
</g>
</svg>
